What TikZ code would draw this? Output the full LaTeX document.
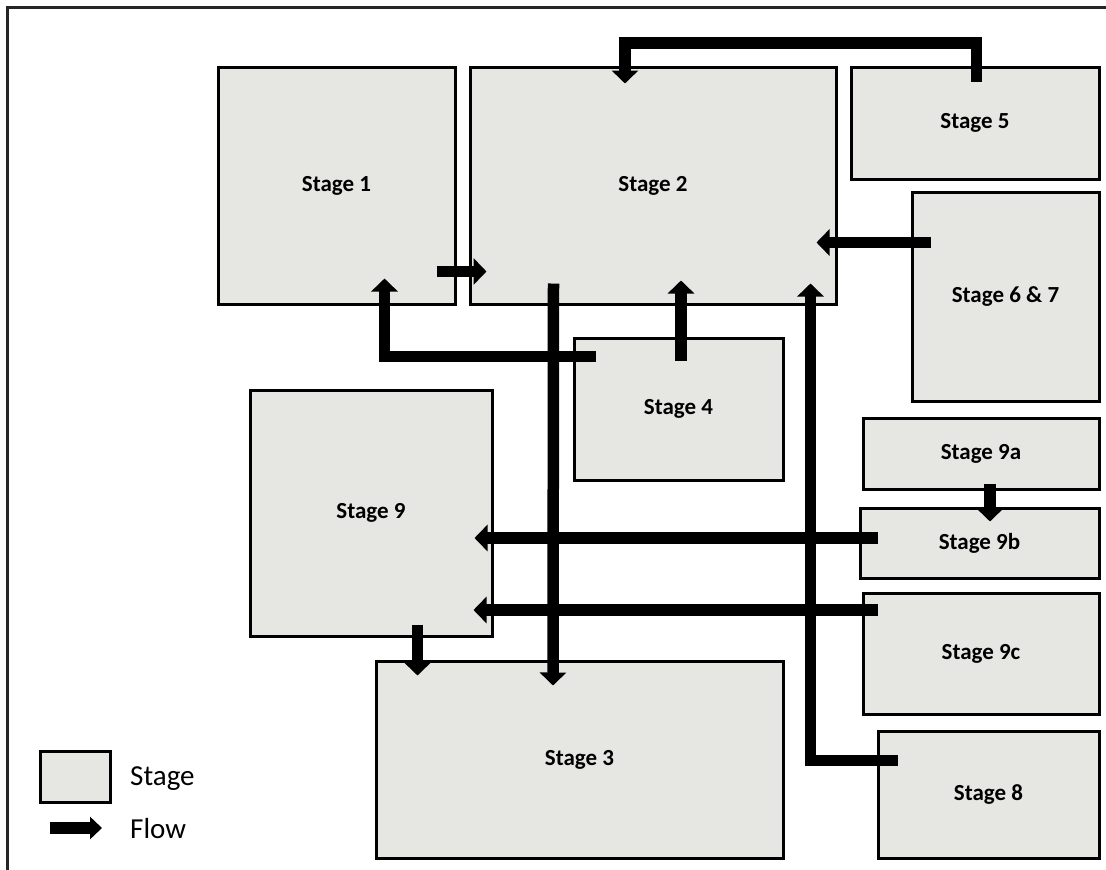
\documentclass[tikz,border=0pt]{standalone}
\usepackage{fontspec}
\setmainfont{Carlito}
\usetikzlibrary{arrows.meta}
\definecolor{stagefill}{RGB}{230,230,226}
\definecolor{framegray}{RGB}{38,38,38}
\begin{document}
\begin{tikzpicture}[x=1pt,y=-1pt,
  stage/.style={draw=black, line width=3pt, fill=stagefill, inner sep=0pt,
    font=\fontsize{23}{27}\selectfont\bfseries},
  flow/.style={line width=11.5pt, -{Triangle[width=26pt,length=13pt]}},
  legendflow/.style={line width=12pt, -{Triangle[width=22pt,length=12pt]}},
  legendtext/.style={font=\fontsize{29}{34}\selectfont, anchor=west, inner sep=0pt}]
\useasboundingbox (0,0) rectangle (1106,870);

% open frame: top and left edges only
\draw[framegray, line width=3pt] (7,870) -- (7,7) -- (1106,7);

% stages
\node[stage, minimum width=237pt, minimum height=237pt] (s1)  at (336.5,185.5) {Stage 1};
\node[stage, minimum width=366pt, minimum height=237pt] (s2)  at (653,185.5)   {Stage 2};
\node[stage, minimum width=248pt, minimum height=112pt] (s5)  at (975,123)     {Stage 5};
\node[stage, minimum width=187pt, minimum height=209pt] (s67) at (1005.5,296.5){Stage 6 \& 7};
\node[stage, minimum width=209pt, minimum height=142pt] (s4)  at (678.5,409)   {Stage 4};
\node[stage, minimum width=236pt, minimum height=71pt]  (s9a) at (981,453.5)   {Stage 9a};
\node[stage, minimum width=239pt, minimum height=70pt]  (s9b) at (979.5,543)   {Stage 9b};
\node[stage, minimum width=236pt, minimum height=121pt] (s9c) at (981,653.5)   {Stage 9c};
\node[stage, minimum width=242pt, minimum height=246pt] (s9)  at (371,513)     {Stage 9};
\node[stage, minimum width=407pt, minimum height=197pt] (s3)  at (579.5,759.5) {Stage 3};
\node[stage, minimum width=221pt, minimum height=127pt] (s8)  at (988.5,794.5) {Stage 8};

% flows
\draw[flow] ([shift={(127,16)}]s5.north west) -- ++(0,-38.5) -| ([shift={(156.5,18)}]s2.north west);
\draw[flow] ([shift={(-20,-34)}]s1.south east) -- ([shift={(18,-34)}]s2.south west);
\draw[flow] ([shift={(23,20)}]s4.north west) -| ([shift={(168,-27)}]s1.south west);
\draw[flow] ([shift={(85,-22)}]s2.south west) -- ([shift={(178.5,26)}]s3.north west);
\draw[flow] ([shift={(108.5,24)}]s4.north west) -- ([shift={(212.5,-25)}]s2.south west);
\draw[flow] ([shift={(20,52)}]s67.north west) -- ([shift={(-21,177)}]s2.north east);
\draw[flow] ([shift={(21,31)}]s8.north west) -| ([shift={(-27,-22)}]s2.south east);
\draw[flow] ([shift={(9,-7)}]s9a.south) -- ([shift={(10.5,15)}]s9b.north);
\draw[flow] ([shift={(19,-5)}]s9b.west) -- ([shift={(-19,25)}]s9.east);
\draw[flow] ([shift={(16,-43.5)}]s9c.west) -- ([shift={(-20,97)}]s9.east);
\draw[flow] ([shift={(169,-13)}]s9.south west) -- ([shift={(43,16)}]s3.north west);

% legend
\node[stage, minimum width=70pt, minimum height=51pt] (lstage) at (75,776.5) {};
\node[legendtext] (lstagetext) at (130,779) {Stage};
\coordinate (lflowstart) at (50,828);
\coordinate (lflowend) at (102,828);
\draw[legendflow] (lflowstart) -- (lflowend);
\node[legendtext] (lflowtext) at (130,829) {Flow};
\end{tikzpicture}
\end{document}
